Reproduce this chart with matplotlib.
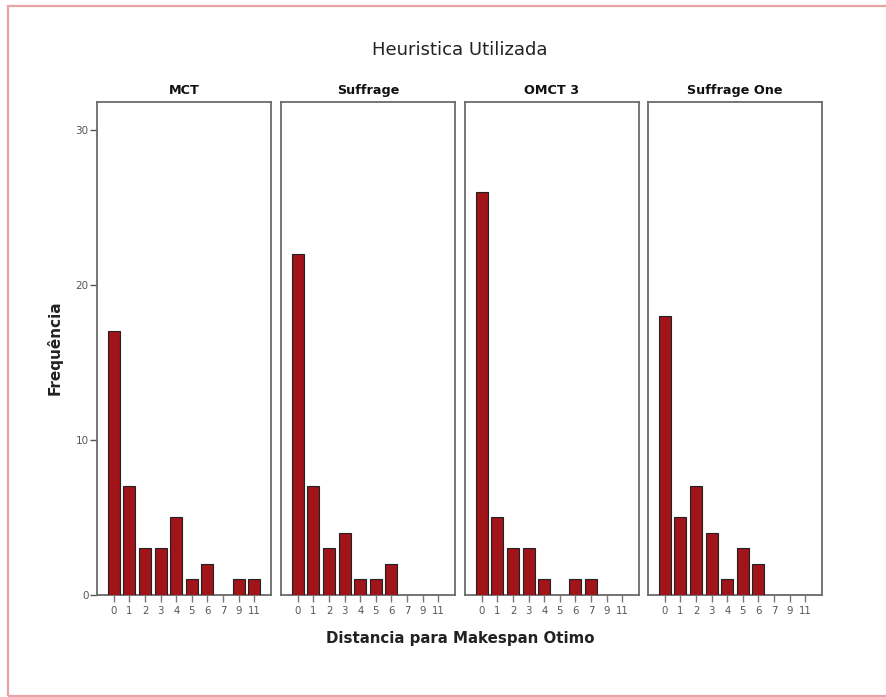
import matplotlib
matplotlib.use("Agg")
import matplotlib.pyplot as plt
from matplotlib.patches import Rectangle

categories = ["0", "1", "2", "3", "4", "5", "6", "7", "9", "11"]
panels = ["MCT", "Suffrage", "OMCT 3", "Suffrage One"]
mct = [17, 7, 3, 3, 5, 1, 2, 0, 1, 1]
suffrage = [22, 7, 3, 4, 1, 1, 2, 0, 0, 0]
omct3 = [26, 5, 3, 3, 1, 0, 1, 1, 0, 0]
suffrage_one = [18, 5, 7, 4, 1, 3, 2, 0, 0, 0]
series = [mct, suffrage, omct3, suffrage_one]
yticks = [0, 10, 20, 30]

plt.rcParams['font.family'] = ['DejaVu Sans']
W, H = 887, 697
fig = plt.figure(figsize=(W / 100, H / 100), dpi=100)

lefts = [97, 281, 465, 648]
pw = 174
top, bottom = 102, 595
frame_col = '#6a6a6a'
bar_col = '#A0141A'

x = list(range(len(categories)))
for i, (name, vals) in enumerate(zip(panels, series)):
    ax = fig.add_axes([lefts[i] / W, 1 - bottom / H, pw / W, (bottom - top) / H])
    ax.bar(x, vals, width=0.77, color=bar_col, edgecolor='#222222', linewidth=0.8, zorder=3)
    ax.set_xlim(-1.08, 10.07)
    ax.set_ylim(0, 31.8)
    ax.set_xticks(x)
    ax.set_xticklabels(categories, fontsize=7.3, color='#555555')
    ax.tick_params(axis='x', length=5, width=1, color='#777777', pad=3)
    for sp in ax.spines.values():
        sp.set_color(frame_col)
        sp.set_linewidth(1.3)
    if i == 0:
        ax.set_yticks(yticks)
        ax.set_yticklabels([str(v) for v in yticks], fontsize=7.5, color='#555555')
        ax.tick_params(axis='y', length=5, width=1, color='#555555', pad=1)
    else:
        ax.set_yticks([])
    ax.set_title(name, fontsize=9.2, fontweight='bold', pad=6, color='#111111')

fig.text(460 / W, 1 - 50 / H, "Heuristica Utilizada", ha='center', va='center',
         fontsize=13, color='#222222')
fig.text(460 / W, 1 - 639 / H, "Distancia para Makespan Otimo", ha='center', va='center',
         fontsize=10.8, fontweight='bold', color='#222222')
fig.text(55 / W, 1 - 348 / H, "Frequência", ha='center', va='center', rotation=90,
         fontsize=11, fontweight='bold', color='#222222')

fig.patches.append(Rectangle((8 / W, 1 / H), 1.0, 1 - 7 / H, transform=fig.transFigure,
                             fill=False, edgecolor='#E8A4A4', linewidth=1.6))

fig.savefig("out.png", dpi=100, facecolor='white')
